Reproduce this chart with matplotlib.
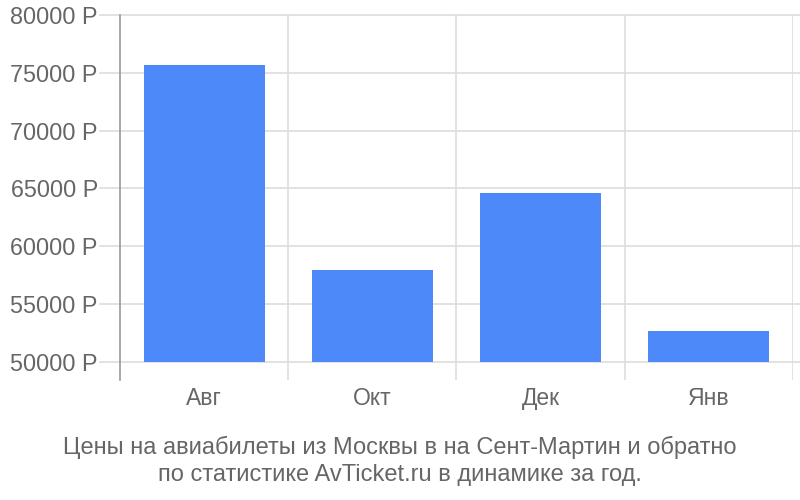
import matplotlib.pyplot as plt
import numpy as np

months = ["Авг", "Окт", "Дек", "Янв"]
prices = [75700, 57950, 64600, 52680]
yticks = [50000, 55000, 60000, 65000, 70000, 75000, 80000]
caption = ("Цены на авиабилеты из Москвы в на Сент-Мартин и обратно\n"
           "по статистике AvTicket.ru в динамике за год.")

plt.rcParams['font.family'] = ['Liberation Sans', 'DejaVu Sans']

fig = plt.figure(figsize=(8, 5), dpi=100)
ax = fig.add_axes([0.15, 0.24, 0.841, 0.73])

x = np.arange(len(months)) + 0.5
base = 50000
ax.bar(x, np.array(prices) - base, bottom=base, width=0.72,
       color="#4d89f9", zorder=3)

ax.set_xlim(0, 4)
ax.set_ylim(48440, 80000)
ax.set_yticks(yticks)
ax.set_yticklabels(["%d Р" % v for v in yticks], fontsize=16.8, color="#666666")
ax.set_xticks(x)
ax.set_xticklabels(months, fontsize=16.5, color="#666666")

for v in yticks:
    ax.plot([-0.12, 4.05], [v, v], color="#dddddd", lw=1.2, zorder=1,
            clip_on=False)
for b in [1, 2, 3, 4]:
    ax.axvline(b, color="#dddddd", lw=1.2, zorder=1)

for s in ["top", "right", "bottom"]:
    ax.spines[s].set_visible(False)
ax.spines["left"].set_color("#999999")
ax.spines["left"].set_linewidth(1.2)
ax.tick_params(axis="y", length=0, pad=16)
ax.tick_params(axis="x", length=0, pad=5)

fig.text(0.5, 0.078, caption, ha="center", va="center", fontsize=17,
         color="#666666", linespacing=1.3)

fig.savefig("out.png", dpi=100)
